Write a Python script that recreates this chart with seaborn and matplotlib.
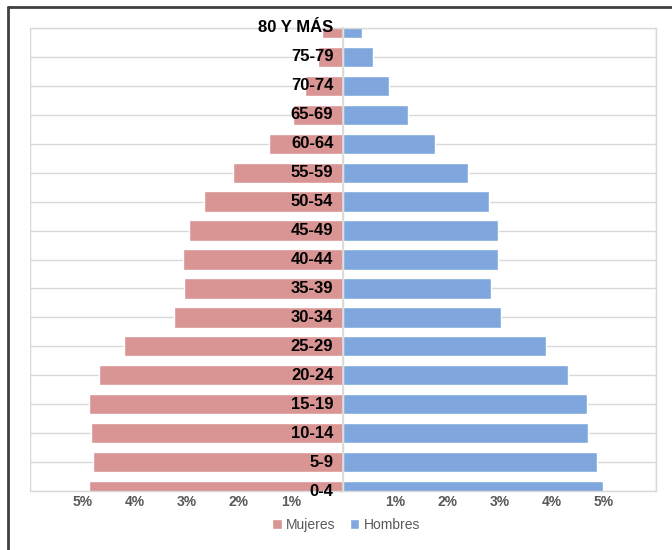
import matplotlib
matplotlib.use("Agg")
import matplotlib.pyplot as plt
from matplotlib.lines import Line2D
import seaborn as sns
import pandas as pd

# Age groups, oldest at the top
edades = ['80 Y MÁS', '75-79', '70-74', '65-69', '60-64', '55-59', '50-54',
          '45-49', '40-44', '35-39', '30-34', '25-29', '20-24', '15-19',
          '10-14', '5-9', '0-4']
# Share of total population (%)
mujeres = [0.40, 0.48, 0.72, 0.95, 1.41, 2.10, 2.67, 2.96, 3.07, 3.05,
           3.24, 4.20, 4.68, 4.87, 4.83, 4.79, 4.87]
hombres = [0.36, 0.57, 0.88, 1.24, 1.77, 2.40, 2.80, 2.97, 2.97, 2.84,
           3.02, 3.89, 4.31, 4.67, 4.69, 4.87, 4.98]
sexos = ['Mujeres', 'Hombres']
x_ticks = [-5, -4, -3, -2, -1, 1, 2, 3, 4, 5]
x_labels = ['5%', '4%', '3%', '2%', '1%', '1%', '2%', '3%', '4%', '5%']

colores = {'Mujeres': '#D99593', 'Hombres': '#7FA7DE'}
gris_rejilla = '#D9D9D9'
gris_texto = '#595959'

df = pd.concat([
    pd.DataFrame({'edad': edades, 'pct': [-v for v in mujeres], 'sexo': 'Mujeres'}),
    pd.DataFrame({'edad': edades, 'pct': hombres, 'sexo': 'Hombres'}),
], ignore_index=True)

sns.set_theme(style='white')
plt.rcParams['font.family'] = ['Liberation Sans Narrow', 'Liberation Sans', 'DejaVu Sans']

fig = plt.figure(figsize=(6.72, 5.5), dpi=100)
ax = fig.add_axes([30 / 672, 1 - 491 / 550, 626 / 672, 463 / 550])

sns.barplot(data=df, x='pct', y='edad', hue='sexo', order=edades,
            hue_order=sexos, palette=colores, dodge=False, width=0.7,
            orient='h', saturation=1, ax=ax)

ax.set_xlim(-6, 6)
ax.set_ylim(len(edades) - 1, 0)
ax.set_xlabel('')
ax.set_ylabel('')

# grid through every percent and every age group
ax.set_xticks(range(-6, 7), minor=True)
ax.grid(True, which='minor', axis='x', color=gris_rejilla, lw=1, zorder=0)
ax.grid(True, which='major', axis='y', color=gris_rejilla, lw=1, zorder=0)
ax.set_axisbelow(True)

ax.set_xticks(x_ticks)
ax.set_xticklabels(x_labels)
ax.tick_params(axis='x', which='both', length=0, pad=3, labelsize=10,
               labelcolor=gris_texto)
for t in ax.get_xticklabels():
    t.set_fontweight('bold')

# category axis crosses at zero
ax.spines['left'].set_position(('data', 0))
ax.spines['left'].set_color(gris_rejilla)
for s in ['top', 'right', 'bottom']:
    ax.spines[s].set_color(gris_rejilla)
    ax.spines[s].set_linewidth(1)
ax.axvline(-6, color=gris_rejilla, lw=1.5, zorder=0)
ax.tick_params(axis='y', length=3, width=1, color='#BFBFBF', left=True)
ax.set_yticks(range(len(edades)))
ax.set_yticklabels([''] * len(edades))

# age group names sit on top of the bars, next to the zero axis
for i, edad in enumerate(edades):
    ax.annotate(edad, xy=(0, i), xytext=(-7, 0), textcoords='offset points',
                ha='right', va='center', fontsize=12, fontweight='bold',
                color='black', zorder=10, annotation_clip=False)

sns.move_legend(ax, 'center', bbox_to_anchor=(0.505, -0.073), ncol=2,
                frameon=False, title=None, fontsize=10, handlelength=0.7,
                handleheight=0.7, handletextpad=0.3, columnspacing=1.0)
for t in ax.get_legend().get_texts():
    t.set_color(gris_texto)

# chart frame
fig.add_artist(Line2D([8 / 672, 1], [1 - 7 / 550, 1 - 7 / 550],
                      transform=fig.transFigure, color='#404040', lw=2))
fig.add_artist(Line2D([8 / 672, 8 / 672], [0, 1 - 7 / 550],
                      transform=fig.transFigure, color='#404040', lw=2))

fig.savefig('out.png', dpi=100, facecolor='white')
